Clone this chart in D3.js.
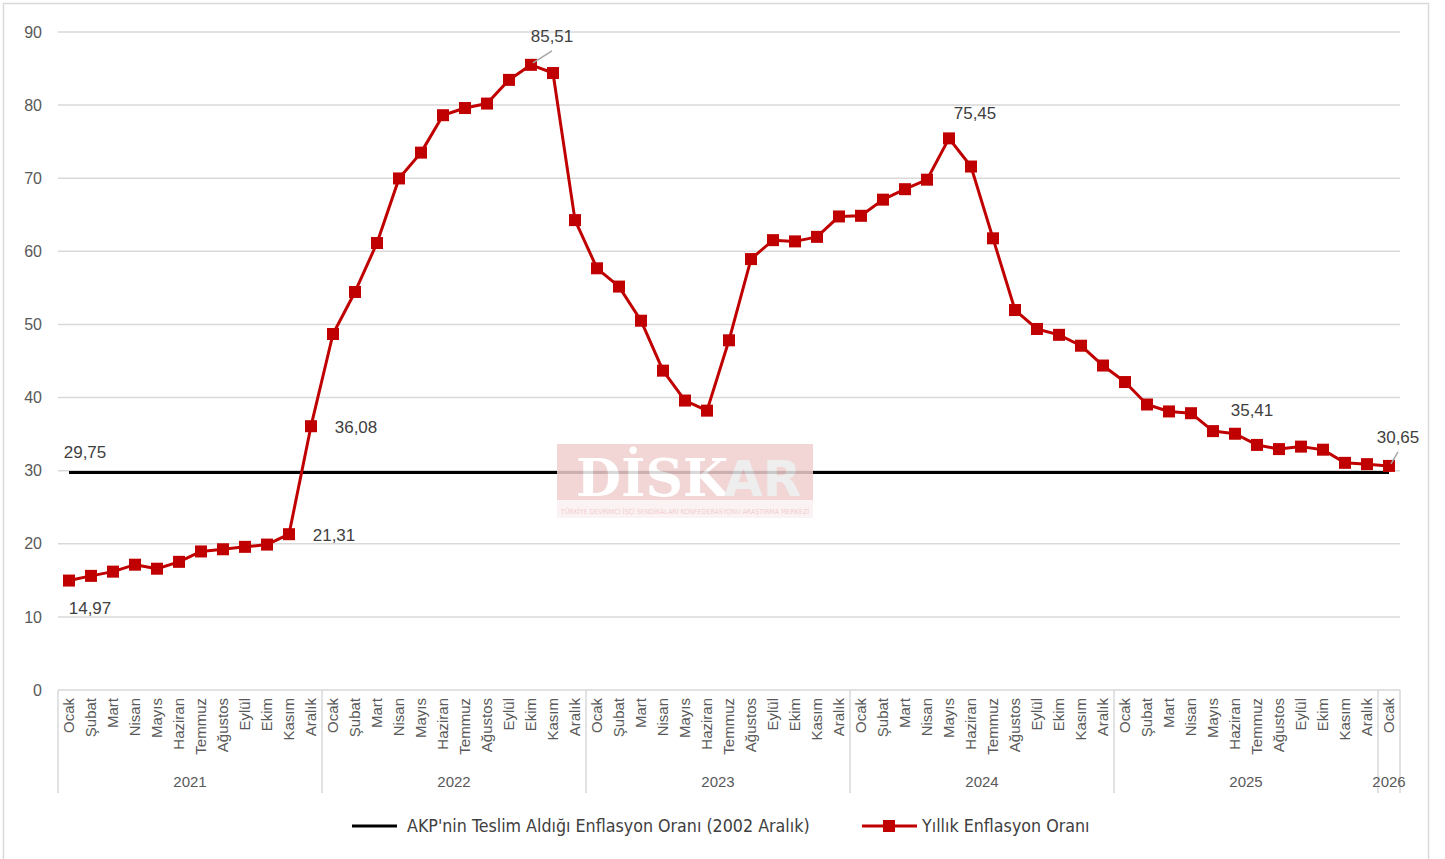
<!DOCTYPE html>
<html>
<head>
<meta charset="utf-8">
<script src="https://cdn.jsdelivr.net/npm/d3@7"></script>
<style>
  body { margin: 0; background: #fff; }
  svg { display: block; font-family: "Liberation Sans", Arial, sans-serif; }
</style>
</head>
<body>
<div id="wrapper"></div>
<script>
// months (Turkish) and years
const months = ["Ocak","Şubat","Mart","Nisan","Mayıs","Haziran","Temmuz","Ağustos","Eylül","Ekim","Kasım","Aralık"];
const years = ["2021","2022","2023","2024","2025","2026"];

// yearly inflation, Jan 2021 .. Jan 2026
const inflation2021 = [14.97,15.61,16.19,17.14,16.59,17.53,18.95,19.25,19.58,19.89,21.31,36.08];
const inflation2022 = [48.69,54.44,61.14,69.97,73.50,78.62,79.60,80.21,83.45,85.51,84.39,64.27];
const inflation2023 = [57.68,55.18,50.51,43.68,39.59,38.21,47.83,58.94,61.53,61.36,61.98,64.77];
const inflation2024 = [64.86,67.07,68.50,69.80,75.45,71.60,61.78,51.97,49.38,48.58,47.09,44.38];
const inflation2025 = [42.12,39.05,38.10,37.86,35.41,35.05,33.52,32.95,33.29,32.87,31.07,30.89];
const inflation2026 = [30.65];

const baseRate = 29.75; // AKP'nin teslim aldigi oran (2002 Aralik)
const yTicks = [0,10,20,30,40,50,60,70,80,90];

const seriesName1 = "AKP'nin Teslim Aldığı Enflasyon Oranı (2002 Aralık)";
const seriesName2 = "Yıllık Enflasyon Oranı";

const allYears = [inflation2021, inflation2022, inflation2023, inflation2024, inflation2025, inflation2026];
let data = [];
allYears.forEach((arr, yi) => {
	arr.forEach((v, mi) => {
		data.push({key: years[yi] + "-" + mi, month: months[mi], year: years[yi], value: v});
	});
});

const width = 1445, height = 859;
const plot = {left: 58, right: 1400, top: 32, bottom: 690};

const svg = d3.select("#wrapper").append("svg")
	.attr("width", width)
	.attr("height", height);

// outer frame
svg.append("rect")
	.attr("x", 3.5).attr("y", 3.5)
	.attr("width", 1425).attr("height", 860)
	.attr("fill", "none").attr("stroke", "#d9d9d9").attr("stroke-width", 1.5);

const xScale = d3.scaleBand()
	.domain(data.map(d => d.key))
	.range([plot.left, plot.right]);

const yScale = d3.scaleLinear()
	.domain([0, 90])
	.range([plot.bottom, plot.top]);

const xc = d => xScale(d.key) + xScale.bandwidth() / 2;

// gridlines
svg.append("g").selectAll("line")
	.data(yTicks.filter(t => t > 0))
	.enter().append("line")
	.attr("x1", plot.left).attr("x2", plot.right)
	.attr("y1", d => yScale(d)).attr("y2", d => yScale(d))
	.attr("stroke", "#d9d9d9").attr("stroke-width", 1.5);

// y axis labels
const yAxis = svg.append("g")
	.attr("transform", `translate(${plot.left - 16},0)`)
	.call(d3.axisLeft(yScale).tickValues(yTicks).tickSize(0).tickPadding(0));
yAxis.select(".domain").remove();
yAxis.selectAll("text")
	.attr("font-size", 16).attr("fill", "#595959")
	.attr("font-family", "Liberation Sans, Arial, sans-serif");

// bottom category axis
const xAxisG = svg.append("g");
xAxisG.append("line")
	.attr("x1", plot.left).attr("x2", plot.right)
	.attr("y1", plot.bottom).attr("y2", plot.bottom)
	.attr("stroke", "#d9d9d9").attr("stroke-width", 1.5);

xAxisG.selectAll("text.month")
	.data(data)
	.enter().append("text")
	.attr("class", "month")
	.attr("transform", d => `translate(${xc(d) + 5},${plot.bottom + 8}) rotate(-90)`)
	.attr("text-anchor", "end")
	.attr("font-size", 15)
	.attr("fill", "#595959")
	.text(d => d.month);

const yearGroups = d3.groups(data, d => d.year);
const yearBounds = yearGroups.map(([yr, rows]) => ({
	year: yr,
	x0: xScale(rows[0].key),
	x1: xScale(rows[rows.length - 1].key) + xScale.bandwidth()
}));

xAxisG.selectAll("line.sep")
	.data([yearBounds[0].x0].concat(yearBounds.map(b => b.x1)))
	.enter().append("line")
	.attr("class", "sep")
	.attr("x1", d => d).attr("x2", d => d)
	.attr("y1", plot.bottom).attr("y2", plot.bottom + 103)
	.attr("stroke", "#d9d9d9").attr("stroke-width", 1.5);

xAxisG.selectAll("text.year")
	.data(yearBounds)
	.enter().append("text")
	.attr("class", "year")
	.attr("x", d => (d.x0 + d.x1) / 2)
	.attr("y", plot.bottom + 97)
	.attr("text-anchor", "middle")
	.attr("font-size", 15)
	.attr("fill", "#595959")
	.text(d => d.year);

// black base line
const first = data[0], last = data[data.length - 1];
svg.append("line")
	.attr("x1", xc(first)).attr("x2", xc(last))
	.attr("y1", yScale(baseRate)).attr("y2", yScale(baseRate))
	.attr("stroke", "#000").attr("stroke-width", 3);

// watermark (DİSKAR)
const wm = svg.append("g").attr("opacity", 0.85);
wm.append("rect").attr("x", 557).attr("y", 444).attr("width", 256).attr("height", 56).attr("fill", "#f0cfd0");
wm.append("rect").attr("x", 557).attr("y", 500).attr("width", 256).attr("height", 18).attr("fill", "#fbf1f1");
wm.append("text").attr("x", 576).attr("y", 496)
	.attr("font-family", "DejaVu Serif, serif").attr("font-weight", "bold")
	.attr("font-size", 52).attr("fill", "#ffffff").text("DİSK");
wm.append("text").attr("x", 724).attr("y", 496)
	.attr("font-family", "DejaVu Sans, sans-serif").attr("font-weight", "bold")
	.attr("font-size", 50).attr("fill", "#ececec").text("AR");
wm.append("text").attr("x", 685).attr("y", 514).attr("text-anchor", "middle")
	.attr("font-family", "DejaVu Sans Condensed, sans-serif")
	.attr("font-size", 7).attr("fill", "#f0c4c6")
	.text("TÜRKİYE DEVRİMCİ İŞÇİ SENDİKALARI KONFEDERASYONU ARAŞTIRMA MERKEZİ");

// red inflation line
const line = d3.line().x(d => xc(d)).y(d => yScale(d.value));
svg.append("path")
	.datum(data)
	.attr("d", line)
	.attr("fill", "none")
	.attr("stroke", "#c00000")
	.attr("stroke-width", 3)
	.attr("stroke-linejoin", "round");

svg.append("g").selectAll("rect")
	.data(data)
	.enter().append("rect")
	.attr("x", d => xc(d) - 6)
	.attr("y", d => yScale(d.value) - 6)
	.attr("width", 12).attr("height", 12)
	.attr("fill", "#c00000");

// data labels
const fmt = v => v.toFixed(2).replace(".", ",");
const labelSpots = [
	{i: 0, dx: 21, dy: 33, lead: false},
	{i: 10, dx: 45, dy: 7, lead: false},
	{i: 11, dx: 45, dy: 7, lead: false},
	{i: 21, dx: 21, dy: -23, lead: true},
	{i: 40, dx: 26, dy: -19, lead: false},
	{i: 52, dx: 39, dy: -15, lead: false},
	{i: 60, dx: 9, dy: -23, lead: true}
];
const labG = svg.append("g");
labelSpots.forEach(s => {
	const d = data[s.i];
	const px = xc(d), py = yScale(d.value);
	if (s.lead) {
		labG.append("line")
			.attr("x1", px + 2).attr("y1", py - 2)
			.attr("x2", px + s.dx).attr("y2", py + s.dy + 9)
			.attr("stroke", "#a6a6a6").attr("stroke-width", 1.5);
	}
	labG.append("text")
		.attr("x", px + s.dx).attr("y", py + s.dy)
		.attr("text-anchor", "middle")
		.attr("font-size", 17).attr("fill", "#404040")
		.text(fmt(d.value));
});
labG.append("text")
	.attr("x", xc(first) + 16).attr("y", yScale(baseRate) - 14)
	.attr("text-anchor", "middle")
	.attr("font-size", 17).attr("fill", "#404040")
	.text(fmt(baseRate));

// legend
const legend = svg.append("g").attr("transform", "translate(0,826)");
const legFont = "Liberation Sans Narrow, DejaVu Sans Condensed, sans-serif";
legend.append("line").attr("x1", 352).attr("x2", 397).attr("y1", 0).attr("y2", 0)
	.attr("stroke", "#000").attr("stroke-width", 3);
legend.append("text").attr("x", 407).attr("y", 6)
	.attr("font-family", legFont).attr("font-size", 17.7).attr("fill", "#404040")
	.text(seriesName1);
legend.append("line").attr("x1", 862).attr("x2", 917).attr("y1", 0).attr("y2", 0)
	.attr("stroke", "#c00000").attr("stroke-width", 3);
legend.append("rect").attr("x", 883).attr("y", -6).attr("width", 12).attr("height", 12)
	.attr("fill", "#c00000");
legend.append("text").attr("x", 922).attr("y", 6)
	.attr("font-family", legFont).attr("font-size", 17.7).attr("fill", "#404040")
	.text(seriesName2);
</script>
</body>
</html>
